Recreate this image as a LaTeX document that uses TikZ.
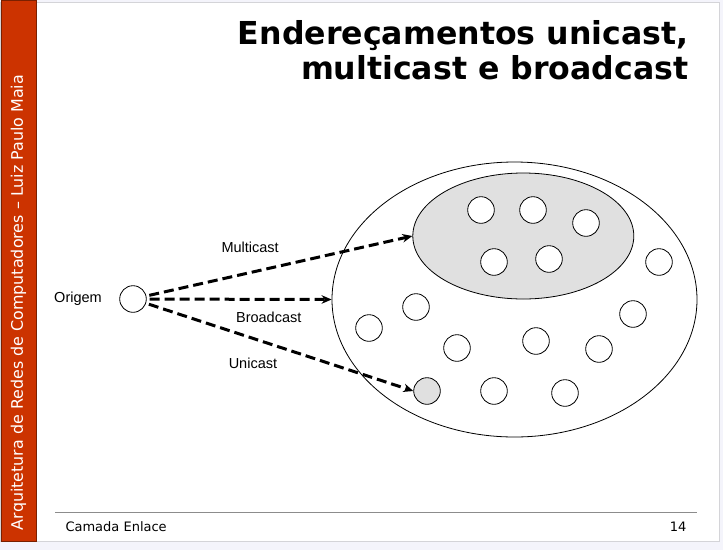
\documentclass[tikz,border=0pt]{standalone}
\usepackage{fontspec}
\setmainfont{DejaVu Sans}
\newfontfamily\labelfont{Liberation Sans}
\usetikzlibrary{shapes.geometric,arrows.meta,positioning}
\definecolor{barred}{HTML}{CC3300}
\definecolor{bardark}{HTML}{7A2000}
\definecolor{pagebg}{HTML}{F4F4FB}
\definecolor{framegray}{HTML}{D4D4D8}
\definecolor{footgray}{HTML}{8C8C8C}
\definecolor{hostgray}{HTML}{E0E0E0}

\begin{document}
\begin{tikzpicture}[x=1pt,y=-1pt,
    host/.style={draw,circle,fill=white,minimum size=26.6pt,inner sep=0pt,line width=.8pt},
    lanarea/.style={draw,ellipse,inner sep=0pt,line width=.8pt},
    cast/.style={line width=3pt,dash pattern=on 10pt off 5pt,-{Stealth[length=10pt,width=8.5pt]},shorten <=3pt},
    lbl/.style={font=\labelfont\fontsize{14.5}{17}\selectfont}]
\useasboundingbox (0,0) rectangle (723,550);
\fill[pagebg] (0,0) rectangle (723,550);
\draw[fill=white,draw=framegray] (0,2) rectangle (719,541);
\draw[fill=barred,draw=bardark] (1,0) rectangle (36,541);
\node[rotate=90,text=white,font=\fontsize{15.9}{18}\selectfont] (side) at (18.5,302.5) {Arquitetura de Redes de Computadores – Luiz Paulo Maia};

% titulo
\node[anchor=base east,font=\bfseries\fontsize{31.6}{35}\selectfont] (title1) at (692,44) {Endereçamentos unicast,};
\node[anchor=base east,font=\bfseries\fontsize{31.6}{35}\selectfont] (title2) at (692,79) {multicast e broadcast};

% rodape
\draw[footgray,line width=1pt] (55,512) -- (697,512);
\node[anchor=base west,font=\fontsize{13}{15}\selectfont] (chapter) at (62,531) {Camada Enlace};
\node[anchor=base east,font=\fontsize{13}{15}\selectfont] (page) at (690,531) {14};

% rede
\node[lanarea,minimum width=365pt,minimum height=275pt] (B) at (514.5,299.5) {};
\node[lanarea,fill=hostgray,minimum width=221pt,minimum height=126pt] (M) at (523.3,236) {};
\foreach \x/\y [count=\n] in {481/210,533/210,586/223,494/262,549/259,659/262,416/307,369/328,633/314,457/348,536/341,599/349,494/391,565/393}
    \node[host] (H\n) at (\x,\y) {};
\node[host,fill=hostgray] (U) at (427,391) {};

\node[host] (O) at (133,299) {};
\node[lbl,left=14pt of O] (origem) {Origem};

\draw[cast] (O) -- node[lbl,pos=.39,above=15pt] (lm) {Multicast} (M.west);
\draw[cast] (O) -- node[lbl,pos=.66,below=7.5pt] (lb) {Broadcast} (B.west);
\draw[cast] (O) -- node[lbl,pos=.4,below=15pt] (lu) {Unicast} (U.west);
\end{tikzpicture}
\end{document}
